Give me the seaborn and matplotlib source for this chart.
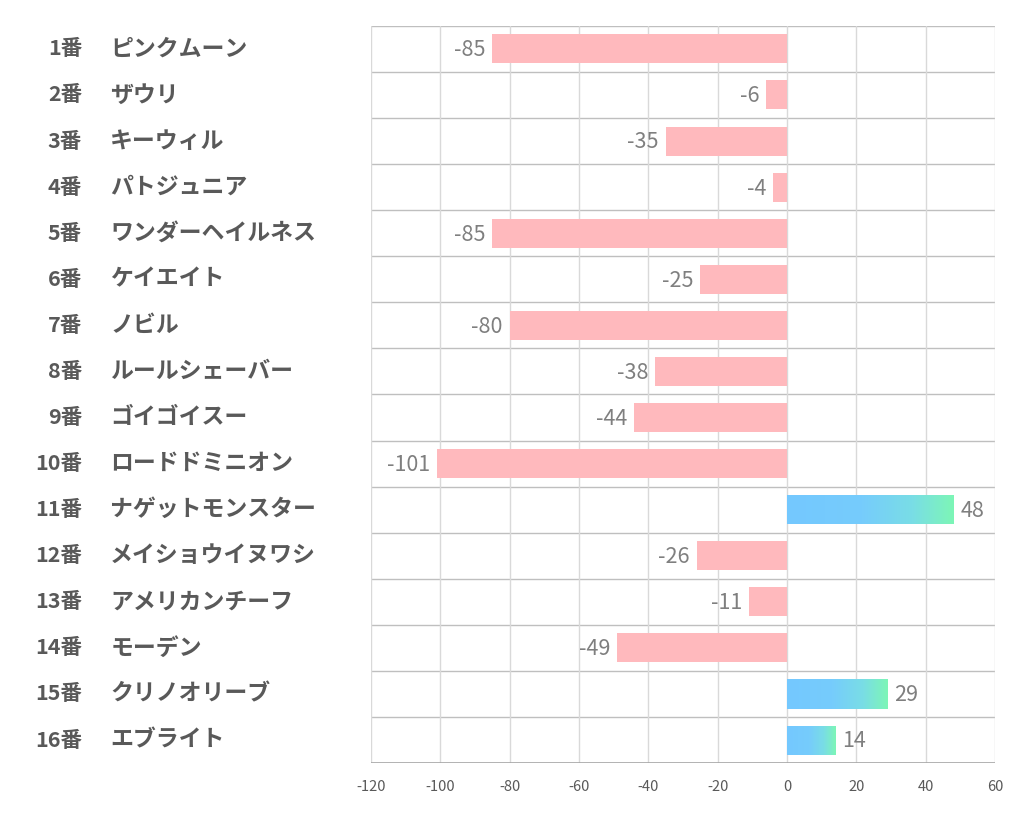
import numpy as np
import pandas as pd
import matplotlib
matplotlib.use('Agg')
import matplotlib.pyplot as plt
import seaborn as sns
import matplotlib.transforms as mtransforms
from matplotlib.colors import LinearSegmentedColormap

numbers = ['1番', '2番', '3番', '4番', '5番', '6番', '7番', '8番',
           '9番', '10番', '11番', '12番', '13番', '14番', '15番', '16番']
names = ['ピンクムーン', 'ザウリ', 'キーウィル', 'パトジュニア', 'ワンダーヘイルネス',
         'ケイエイト', 'ノビル', 'ルールシェーバー', 'ゴイゴイスー', 'ロードドミニオン',
         'ナゲットモンスター', 'メイショウイヌワシ', 'アメリカンチーフ', 'モーデン',
         'クリノオリーブ', 'エブライト']
values = [-85, -6, -35, -4, -85, -25, -80, -38, -44, -101, 48, -26, -11, -49, 29, 14]
xticks = [-120, -100, -80, -60, -40, -20, 0, 20, 40, 60]

sns.set_theme(style='white')
plt.rcParams['font.family'] = ['Noto Sans CJK JP', 'DejaVu Sans']

fig = plt.figure(figsize=(10.22, 8.34), dpi=100)
ax = fig.add_axes([0.363, 0.085, 0.6106, 0.884])

df = pd.DataFrame({'label': [f'{n} {m}' for n, m in zip(numbers, names)], 'value': values})
sns.barplot(data=df, x='value', y='label', orient='h', color='#FFB9BD',
            saturation=1, width=0.63, ax=ax, zorder=3)

cmap = LinearSegmentedColormap.from_list('g', [(0, '#74C8FF'), (0.45, '#76CCFC'),
                                                (0.75, '#79DDE6'), (1.0, '#7DF6B6')])
grad = np.linspace(0, 1, 256).reshape(1, -1)
for p in ax.patches:
    p.set_edgecolor('none')
    if p.get_width() > 0:
        x0, y0, w, h = p.get_x(), p.get_y(), p.get_width(), p.get_height()
        p.set_facecolor('none')
        im = ax.imshow(grad, cmap=cmap, extent=[x0, x0 + w, y0 + h, y0],
                       aspect='auto', zorder=3, interpolation='bicubic')
        im.set_clip_path(p)

ax.set_xlim(-120, 60)
ax.set_ylim(15.5, -0.5)
ax.set_aspect('auto')

for k in range(16):
    ax.axhline(k - 0.5, color='#BFBFBF', lw=1, zorder=1)
ax.axhline(15.5, color='#A6A6A6', lw=1.2, zorder=4)
for t in xticks:
    ax.axvline(t, color='#D9D9D9', lw=1, zorder=1)

for s in ax.spines.values():
    s.set_visible(False)

ax.set_xticks(xticks)
ax.set_xticklabels([str(t) for t in xticks], fontsize=10.5, color='#595959')
ax.tick_params(axis='x', length=0, pad=12)
ax.set_yticks([])
ax.set_xlabel('')
ax.set_ylabel('')

trans = mtransforms.blended_transform_factory(ax.transAxes, ax.transData)
for i, (n, m) in enumerate(zip(numbers, names)):
    ax.text(-0.463, i, n, transform=trans, ha='right', va='center',
            fontsize=15.5, fontweight='bold', color='#595959')
    ax.text(-0.418, i, m, transform=trans, ha='left', va='center',
            fontsize=16.5, fontweight='bold', color='#595959')

for i, v in enumerate(values):
    if v < 0:
        ax.annotate(str(v), (v, i), xytext=(-5, -1), textcoords='offset points',
                    ha='right', va='center', fontsize=15.5, color='#7F7F7F', zorder=5)
    else:
        ax.annotate(str(v), (v, i), xytext=(5, -1), textcoords='offset points',
                    ha='left', va='center', fontsize=15.5, color='#7F7F7F', zorder=5)

fig.savefig('out.png', dpi=100, facecolor='white')
